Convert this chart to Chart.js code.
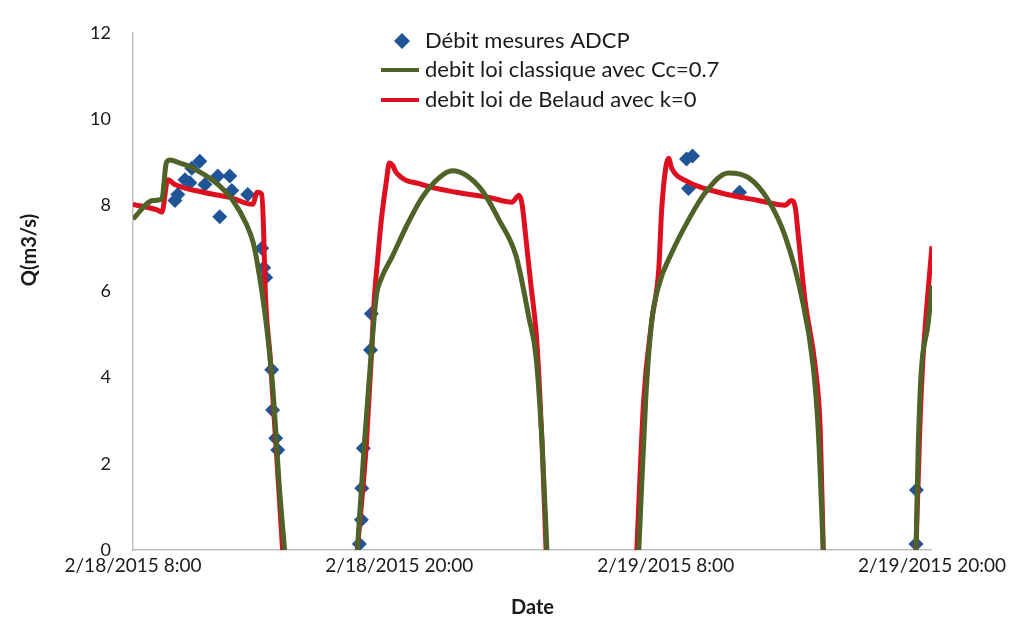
<!DOCTYPE html>
<html>
<head>
<meta charset="utf-8">
<script src="https://cdn.jsdelivr.net/npm/chart.js@4.4.1/dist/chart.umd.min.js"></script>
<style>
  html, body { margin: 0; padding: 0; background: #fff; }
  #wrap { width: 1010px; height: 622px; }
</style>
</head>
<body>
<div id="wrap"><canvas id="debit-chart"></canvas></div>
<script>
// hours counted from 2/18/2015 8:00
const dateLabels = ['2/18/2015 8:00', '2/18/2015 20:00', '2/19/2015 8:00', '2/19/2015 20:00'];

// Débit mesures ADCP
const adcpT = [1.89, 2.02, 2.34, 2.56, 2.65, 3.01, 3.24, 3.82, 3.91, 4.36, 4.45, 5.17, 5.80, 5.89, 5.98, 6.25, 6.29, 6.43, 6.52,
  10.20, 10.29, 10.31, 10.38, 10.70, 10.74, 24.94, 25.03, 25.21, 27.33, 35.28, 35.30];
const adcpQ = [8.11, 8.25, 8.59, 8.52, 8.86, 9.02, 8.48, 8.68, 7.73, 8.68, 8.34, 8.25, 7.00, 6.55, 6.32, 4.18, 3.25, 2.59, 2.32,
  0.14, 0.70, 1.43, 2.36, 4.64, 5.48, 9.07, 8.39, 9.14, 8.30, 0.14, 1.39];

// debit loi classique avec Cc=0.7 (null = pas de débit)
const classiqueT = [0, 0.9, 1.3, 1.5, 1.66, 2.1, 2.7, 3.3, 3.9, 4.5, 5.1, 5.4, 5.6, 6.0, 6.3, 6.6, 6.83, 8.5,
  10.11, 10.43, 10.74, 10.97, 11.19, 11.69, 12.31, 13.03, 13.8, 14.38, 15.0, 15.73, 16.49, 17.26, 17.84, 18.16, 18.43, 18.65, 20.5,
  22.79, 23.1, 23.37, 23.69, 24.27, 25.03, 25.8, 26.83, 27.73, 28.63, 29.39, 30.11, 30.65, 30.88, 31.1, 33,
  35.28, 35.37, 35.51, 35.82, 36.0];
const classiqueQ = [7.68, 8.11, 8.14, 8.98, 9.05, 8.98, 8.86, 8.68, 8.45, 8.11, 7.57, 7.16, 6.66, 5.27, 3.75, 1.43, 0, null,
  0, 2.5, 4.61, 5.91, 6.3, 6.82, 7.5, 8.18, 8.64, 8.8, 8.7, 8.34, 7.66, 6.82, 5.39, 4.48, 2.5, 0, null,
  0, 3.48, 5.3, 6.14, 6.89, 7.66, 8.3, 8.75, 8.64, 8.11, 7.27, 5.91, 4.25, 2.73, 0, null,
  0, 2.2, 4.09, 5.23, 6.14];

// debit loi de Belaud avec k=0
const belaudT = [0, 1.08, 1.3, 1.57, 1.89, 3.15, 4.36, 5.39, 5.6, 5.8, 5.88, 5.96, 6.18, 6.47, 6.74, 8.5,
  10.11, 10.52, 10.74, 10.88, 11.01, 11.19, 11.42, 11.55, 11.69, 11.87, 13.03, 14.56, 16.04, 17.08, 17.39, 17.53, 17.71, 17.93, 18.16, 18.29, 18.43, 18.61, 20.5,
  22.7, 23.01, 23.37, 23.69, 23.82, 24.0, 24.13, 24.27, 24.9, 26.38, 28.18, 29.39, 29.66, 29.84, 29.98, 30.29, 30.74, 30.97, 31.1, 33,
  35.28, 35.46, 35.6, 35.82, 36.0];
const belaudQ = [8.02, 7.89, 7.84, 8.59, 8.48, 8.3, 8.18, 8.02, 8.3, 8.25, 7.5, 6.0, 4.48, 2.2, 0, null,
  0, 2.5, 4.5, 5.9, 6.66, 7.66, 8.57, 8.98, 8.93, 8.75, 8.48, 8.3, 8.18, 8.07, 8.23, 8.02, 7.2, 6.14, 5.07, 4.02, 2.5, 0, null,
  0, 3.48, 5.3, 6.52, 7.89, 8.86, 9.09, 8.86, 8.57, 8.3, 8.11, 8.0, 8.11, 7.95, 7.27, 5.75, 4.25, 2.73, 0, null,
  0, 2.95, 4.48, 5.98, 7.05];

const pts = (T, Q) => T.map((t, i) => ({ x: t, y: Q[i] }));

const BLUE = '#1f5597', GREEN = '#4f6228', RED = '#de1020', TXT = '#1a1a1a';

// legende dans le graphe + titre de l'axe Y
const overlay = {
  id: 'overlay',
  afterDraw(chart) {
    const ctx = chart.ctx;
    ctx.save();
    ctx.textBaseline = 'middle';
    const ds = chart.data.datasets;
    const rows = [41, 70, 100];
    // diamond
    ctx.fillStyle = BLUE;
    ctx.beginPath();
    ctx.moveTo(402, rows[0] - 8); ctx.lineTo(410, rows[0]); ctx.lineTo(402, rows[0] + 8); ctx.lineTo(394, rows[0]);
    ctx.closePath(); ctx.fill();
    [GREEN, RED].forEach((c, i) => {
      ctx.strokeStyle = c; ctx.lineWidth = 4;
      ctx.beginPath(); ctx.moveTo(381, rows[i + 1]); ctx.lineTo(419, rows[i + 1]); ctx.stroke();
    });
    ctx.font = '22px Lato';
    ctx.fillStyle = TXT;
    ds.forEach((d, i) => ctx.fillText(d.label, 425, rows[i]));
    // Y title
    ctx.font = 'bold 20px Lato';
    ctx.textAlign = 'center';
    ctx.translate(30, 250);
    ctx.rotate(-Math.PI / 2);
    ctx.fillText('Q(m3/s)', 0, 0);
    ctx.restore();
  }
};

new Chart(document.getElementById('debit-chart'), {
  type: 'scatter',
  data: {
    datasets: [
      { label: 'Débit mesures ADCP', data: pts(adcpT, adcpQ), pointStyle: 'rectRot', pointRadius: 7.5,
        backgroundColor: BLUE, borderColor: BLUE, borderWidth: 0, order: 3 },
      { label: 'debit loi classique avec Cc=0.7', data: pts(classiqueT, classiqueQ), showLine: true, pointRadius: 0,
        borderColor: GREEN, borderWidth: 5, cubicInterpolationMode: 'monotone', spanGaps: false, order: 1 },
      { label: 'debit loi de Belaud avec k=0', data: pts(belaudT, belaudQ), showLine: true, pointRadius: 0,
        borderColor: RED, borderWidth: 5, cubicInterpolationMode: 'monotone', spanGaps: false, order: 2 }
    ]
  },
  options: {
    responsive: true, maintainAspectRatio: false, animation: false,
    layout: { padding: { left: 0, right: 76, top: 22, bottom: 0 } },
    plugins: { legend: { display: false }, tooltip: { enabled: false } },
    scales: {
      x: {
        type: 'linear', min: 0, max: 36,
        afterFit: s => { s.height = 72; },
        afterBuildTicks: s => { s.ticks = dateLabels.map((_, i) => ({ value: i * 12 })); },
        ticks: { callback: v => dateLabels[v / 12], color: TXT, font: { family: 'Lato', size: 19 }, padding: 4, maxRotation: 0, autoSkip: false },
        grid: { display: false, drawTicks: false },
        border: { display: true, color: '#bfbfbf', width: 1.5 },
        title: { display: true, text: 'Date', color: TXT, font: { family: 'Lato', size: 20, weight: 'bold' }, padding: { top: 0, bottom: 2 } }
      },
      y: {
        min: 0, max: 12,
        afterFit: s => { s.width = 133; },
        ticks: { stepSize: 2, color: TXT, font: { family: 'Lato', size: 18 }, padding: 22 },
        grid: { display: false, drawTicks: false },
        border: { display: true, color: '#bfbfbf', width: 1.5 }
      }
    }
  },
  plugins: [overlay]
});
</script>
</body>
</html>
